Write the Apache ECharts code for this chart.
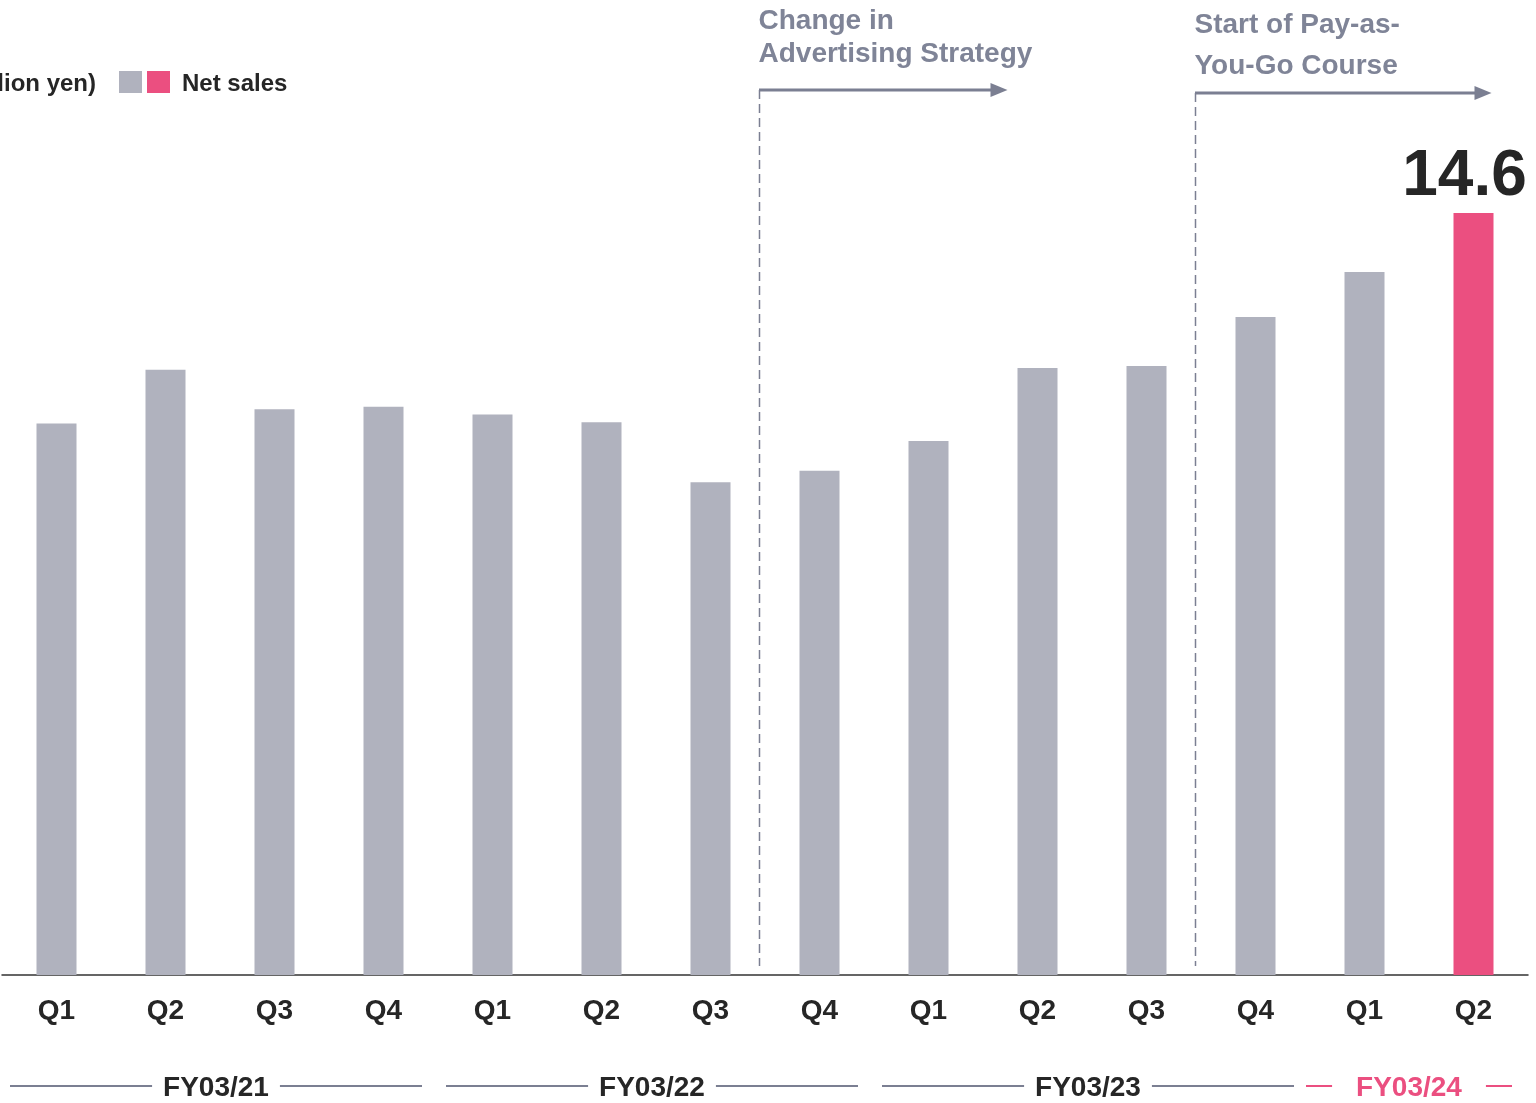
<!DOCTYPE html>
<html>
<head>
<meta charset="utf-8">
<script src="https://cdn.jsdelivr.net/npm/echarts@6/dist/echarts.min.js"></script>
<style>
  html, body { margin: 0; padding: 0; background: #ffffff; }
  #chart { width: 1536px; height: 1103px; }
</style>
</head>
<body>
<div id="chart"></div>
<script>
// Quarterly net sales (billion yen)
const quarters = ['Q1', 'Q2', 'Q3', 'Q4', 'Q1', 'Q2', 'Q3', 'Q4', 'Q1', 'Q2', 'Q3', 'Q4', 'Q1', 'Q2'];
const netSales = [10.57, 11.60, 10.84, 10.89, 10.74, 10.59, 9.44, 9.66, 10.23, 11.63, 11.67, 12.61, 13.47, 14.6];

// Fiscal years: label, first and last quarter index
const fiscalYears = ['FY03/21', 'FY03/22', 'FY03/23', 'FY03/24'];
const fyStart = [0, 4, 8, 12];
const fyEnd = [3, 7, 11, 13];

// Milestones: text lines, placed between quarter index and the next one
const milestoneText = [['Change in', 'Advertising Strategy'], ['Start of Pay-as-', 'You-Go Course']];
const milestoneAfter = [6, 10];

const unitLabel = '(Billion yen)';
const seriesName = 'Net sales';

const GRAY = '#b0b2be';
const PINK = '#eb4f80';
const DARK = '#262626';
const NOTE = '#7f8497';
const LINE = '#7b7f92';
const FONT = '"Liberation Sans", Arial, Helvetica, sans-serif';

const chart = echarts.init(document.getElementById('chart'), null, { renderer: 'canvas' });

const lastIdx = netSales.length - 1;

chart.setOption({
  animation: false,
  backgroundColor: '#ffffff',
  grid: { left: 2, right: 8, top: 140, bottom: 128, containLabel: false },
  xAxis: {
    type: 'category',
    data: quarters,
    axisLine: { show: true, lineStyle: { color: '#333333', width: 1.5 } },
    axisTick: { show: false },
    axisLabel: {
      color: DARK, fontSize: 28, fontWeight: 'bold', fontFamily: FONT, margin: 22
    }
  },
  yAxis: {
    type: 'value', min: 0, max: 16, show: false,
    splitLine: { show: false }
  },
  series: [{
    type: 'bar',
    name: seriesName,
    barWidth: 40,
    data: netSales.map((v, i) => ({
      value: v,
      itemStyle: { color: i === lastIdx ? PINK : GRAY },
      label: i === lastIdx ? {
        show: true, position: 'top', distance: 4, offset: [-9, 0],
        formatter: '{c}', color: DARK, fontSize: 64, fontWeight: 'bold', fontFamily: FONT
      } : { show: false }
    }))
  }]
});

// Annotations positioned from the category axis
const ctx = document.createElement('canvas').getContext('2d');
function textWidth(t, font) { ctx.font = font; return ctx.measureText(t).width; }
const px = i => chart.convertToPixel({ xAxisIndex: 0 }, i);
const step = px(1) - px(0);
const baseY = chart.convertToPixel({ yAxisIndex: 0 }, 0);

const graphics = [];

// Legend: unit + two swatches + series name
graphics.push(
  { type: 'text', style: { text: unitLabel, x: 96, y: 84, textAlign: 'right', textVerticalAlign: 'middle', fill: DARK, font: 'bold 24px ' + FONT } },
  { type: 'rect', shape: { x: 119, y: 71, width: 23, height: 22 }, style: { fill: GRAY } },
  { type: 'rect', shape: { x: 147, y: 71, width: 23, height: 22 }, style: { fill: PINK } },
  { type: 'text', style: { text: seriesName, x: 182, y: 84, textAlign: 'left', textVerticalAlign: 'middle', fill: DARK, font: 'bold 24px ' + FONT } }
);

// Milestone markers: dashed divider, arrow and caption
const arrowY = [90, 93];
const arrowLen = [248, 296];
const textY = [[21, 54], [25, 66]];
milestoneAfter.forEach((idx, k) => {
  const x = Math.round((px(idx) + px(idx + 1)) / 2 - 6) + 0.5;
  const ay = arrowY[k];
  const tip = x + arrowLen[k];
  graphics.push(
    { type: 'line', shape: { x1: x, y1: ay, x2: x, y2: baseY - 9 }, style: { stroke: LINE, lineWidth: 1.5, lineDash: [9, 5] } },
    { type: 'line', shape: { x1: x - 0.5, y1: ay, x2: tip - 14, y2: ay }, style: { stroke: LINE, lineWidth: 3 } },
    { type: 'polygon', shape: { points: [[tip - 17, ay - 7], [tip, ay], [tip - 17, ay + 7]] }, style: { fill: LINE } }
  );
  milestoneText[k].forEach((t, j) => {
    graphics.push({ type: 'text', style: { text: t, x: x - 1, y: textY[k][j], textAlign: 'left', textVerticalAlign: 'middle', fill: NOTE, font: 'bold 28px ' + FONT } });
  });
});

// Fiscal year brackets under the quarter labels
const fyY = 1088;
fiscalYears.forEach((fy, k) => {
  const current = k === fiscalYears.length - 1;
  const color = current ? PINK : LINE;
  const left = px(fyStart[k]) - step / 2 + (current ? -4 : 8);
  const right = px(fyEnd[k]) + step / 2 - 16;
  const cx = (left + right) / 2;
  const font = 'bold 28px ' + FONT;
  const half = textWidth(fy, font) / 2;
  const gap = current ? 24 : 11;
  graphics.push(
    { type: 'text', style: { text: fy, x: cx, y: fyY, textAlign: 'center', textVerticalAlign: 'middle', fill: current ? PINK : DARK, font: font } },
    { type: 'line', shape: { x1: left, y1: fyY - 2, x2: cx - half - gap, y2: fyY - 2 }, style: { stroke: color, lineWidth: 2 } },
    { type: 'line', shape: { x1: cx + half + gap, y1: fyY - 2, x2: right, y2: fyY - 2 }, style: { stroke: color, lineWidth: 2 } }
  );
});

chart.setOption({ graphic: graphics });
</script>
</body>
</html>
